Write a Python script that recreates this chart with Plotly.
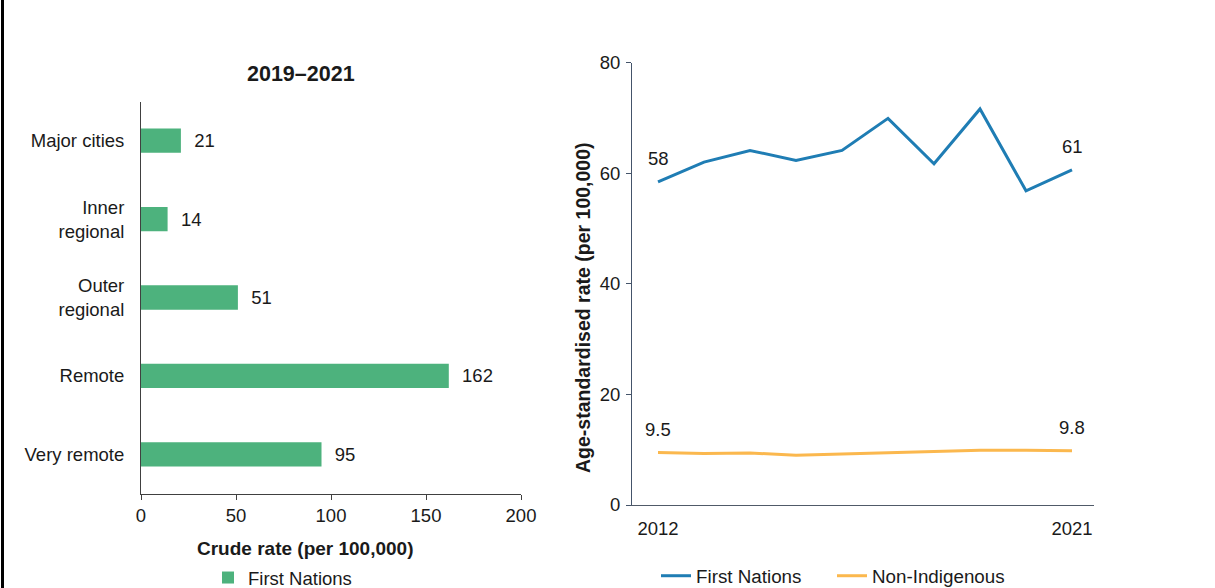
import plotly.graph_objects as go

# ---- data ----
regions = ["Major cities", "Inner<br>regional", "Outer<br>regional", "Remote", "Very remote"]
crude_rates = [21, 14, 51, 162, 95]

years = [2012, 2013, 2014, 2015, 2016, 2017, 2018, 2019, 2020, 2021]
first_nations = [58.4, 62.0, 64.1, 62.3, 64.1, 69.9, 61.7, 71.6, 56.8, 60.6]
non_indigenous = [9.5, 9.3, 9.4, 9.0, 9.2, 9.4, 9.6, 9.9, 9.9, 9.8]
fn_labels = ["58", "61"]
ni_labels = ["9.5", "9.8"]

W, H = 1215, 588
FONT = "Liberation Sans, Arial, sans-serif"
GREEN = "#4DB27D"
BLUE = "#1F7DB4"
ORANGE = "#FBB84E"
TXT = "#1a1a1a"
FS = 18.5

def px(x):
    return x / W

def py(y):
    return 1 - y / H

fig = go.Figure()

fig.add_trace(go.Bar(
    x=crude_rates, y=regions, orientation="h",
    marker=dict(color=GREEN, line=dict(width=0)),
    width=0.31,
    text=[f"{v}" for v in crude_rates], texttemplate="  %{text}",
    textposition="outside", cliponaxis=False,
    textfont=dict(family=FONT, size=FS, color=TXT),
    name="First Nations", xaxis="x", yaxis="y", legend="legend",
    showlegend=True,
))

fig.add_trace(go.Scatter(
    x=years, y=first_nations, mode="lines", name="First Nations",
    line=dict(color=BLUE, width=3), xaxis="x2", yaxis="y2", legend="legend2",
))
fig.add_trace(go.Scatter(
    x=years, y=non_indigenous, mode="lines", name="Non-Indigenous",
    line=dict(color=ORANGE, width=3), xaxis="x2", yaxis="y2", legend="legend2",
))

annotations = []
for xi, yi, lab in [(years[0], first_nations[0], fn_labels[0]), (years[-1], first_nations[-1], fn_labels[1]),
                    (years[0], non_indigenous[0], ni_labels[0]), (years[-1], non_indigenous[-1], ni_labels[1])]:
    annotations.append(dict(x=xi, y=yi, xref="x2", yref="y2", text=lab, showarrow=False,
                            yshift=23, xanchor="center", yanchor="middle",
                            font=dict(family=FONT, size=FS, color=TXT)))

annotations.append(dict(x=px(301), y=py(74), xref="paper", yref="paper", text="<b>2019–2021</b>",
                        xanchor="center", yanchor="middle",
                        showarrow=False, font=dict(family=FONT, size=21.5, color=TXT)))
annotations.append(dict(x=px(306), y=py(548), xref="paper", yref="paper", text="<b>Crude rate (per 100,000)</b>",
                        xanchor="center", yanchor="middle",
                        showarrow=False, font=dict(family=FONT, size=19, color=TXT)))
annotations.append(dict(x=px(583), y=py(308), xref="paper", yref="paper",
                        text="<b>Age-standardised rate (per 100,000)</b>", textangle=-90,
                        xanchor="center", yanchor="middle",
                        showarrow=False, font=dict(family=FONT, size=19.5, color=TXT)))

fig.update_layout(
    width=W, height=H,
    margin=dict(l=0, r=0, t=0, b=0, autoexpand=False),
    paper_bgcolor="white", plot_bgcolor="white",
    font=dict(family=FONT, size=FS, color=TXT),
    xaxis=dict(domain=[px(141), px(521)], range=[0, 200], tickvals=[0, 50, 100, 150, 200],
               showgrid=False, zeroline=False, showline=True, linecolor="#404040", linewidth=1,
               ticks="outside", ticklen=5, tickcolor="#404040", anchor="y", automargin=False,
               ticklabelstandoff=0, tickfont=dict(family=FONT, size=FS, color=TXT)),
    yaxis=dict(domain=[py(493.5), py(101.5)], categoryorder="array", categoryarray=regions,
               autorange="reversed", showgrid=False, zeroline=False, showline=True,
               linecolor="#404040", linewidth=1, ticks="", ticklabelstandoff=12, anchor="x",
               automargin=False, tickfont=dict(family=FONT, size=FS, color=TXT)),
    xaxis2=dict(domain=[px(632), px(1094)], range=[2012 - 26 / 46, 2021 + 22 / 46],
                tickvals=[2012, 2021], showgrid=False, zeroline=False, showline=True,
                linecolor="#505A68", linewidth=1, ticks="", ticklabelstandoff=7, anchor="y2",
                automargin=False, tickfont=dict(family=FONT, size=FS, color=TXT)),
    yaxis2=dict(domain=[py(505), py(62.5)], range=[0, 80], tickvals=[0, 20, 40, 60, 80],
                showgrid=False, zeroline=False, showline=True, linecolor="#44546A", linewidth=1,
                ticks="outside", ticklen=5, tickcolor="#44546A", anchor="x2", automargin=False,
                ticklabelstandoff=2, tickfont=dict(family=FONT, size=FS, color=TXT)),
    legend=dict(orientation="h", x=px(208), y=py(578), xanchor="left", yanchor="middle",
                font=dict(family=FONT, size=FS, color=TXT), bgcolor="rgba(0,0,0,0)"),
    legend2=dict(orientation="h", x=px(656), y=py(576), xanchor="left", yanchor="middle",
                 font=dict(family=FONT, size=18.8, color=TXT), bgcolor="rgba(0,0,0,0)",
                 itemwidth=30, entrywidth=131, entrywidthmode="pixels"),
    annotations=annotations,
    shapes=[dict(type="line", xref="paper", yref="paper", x0=px(2.5), x1=px(2.5), y0=0, y1=1,
                 line=dict(color="black", width=3))],
    showlegend=True,
)

fig.write_html("out.html", config={"displayModeBar": False},
               post_script="document.body.style.margin='0';document.body.style.padding='0';")
